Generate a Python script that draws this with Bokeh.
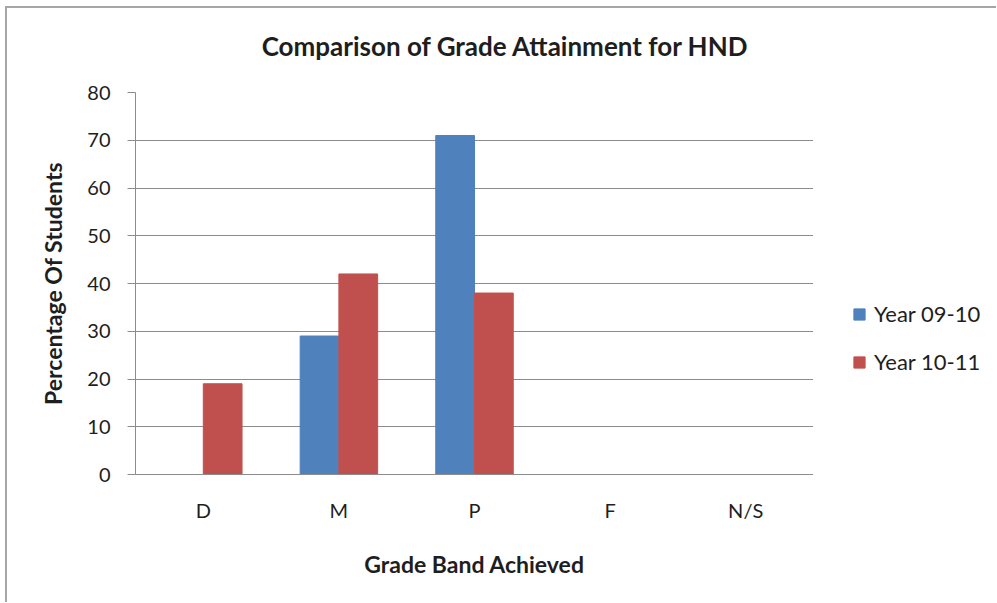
from bokeh.plotting import figure
from bokeh.models import (ColumnDataSource, FactorRange, Range1d, SingleIntervalTicker,
                          Legend, LegendItem, Label)
from bokeh.layouts import row, column
from bokeh.transform import dodge
from bokeh.embed import file_html
from bokeh.resources import INLINE

categories = ["D", "M", "P", "F", "N/S"]
year_0910 = [0, 29, 71, 0, 0]
year_1011 = [19, 42, 38, 0, 0]
series_names = ["Year 09-10", "Year 10-11"]
series_colors = ["#4F81BD", "#C0504D"]
title_text = "Comparison of Grade Attainment for HND"
x_title = "Grade Band Achieved"
y_title = "Percentage Of Students"

FONT = "Lato"
GRID = "#8c8c8c"
TXT = "#1e1e1e"


def blank(fig):
    fig.outline_line_color = None
    fig.background_fill_color = "white"
    fig.border_fill_color = "white"
    fig.grid.grid_line_color = None
    return fig


# ---- title strip ----
top = blank(figure(width=989, height=60, output_backend="svg", toolbar_location=None,
                   x_axis_location=None, y_axis_location=None,
                   min_border=0, min_border_left=0, min_border_right=0,
                   min_border_top=0, min_border_bottom=0))
top.add_layout(Label(x=498, y=23, x_units="screen", y_units="screen", text=title_text,
                     text_align="center", text_baseline="middle", text_font=FONT,
                     text_font_style="bold", text_font_size="26px", text_color=TXT))

# ---- main chart ----
source = ColumnDataSource(dict(cat=categories, a=year_0910, b=year_1011))

p = blank(figure(width=806, height=534, x_range=FactorRange(factors=categories, range_padding=0),
                 y_range=Range1d(0, 80), output_backend="svg", toolbar_location=None,
                 min_border_left=128, min_border_right=0, min_border_top=24,
                 min_border_bottom=128))

bw = 0.2857
p.vbar(x=dodge("cat", -bw / 2, range=p.x_range), top="a", width=bw, source=source,
       fill_color=series_colors[0], line_color=series_colors[0])
p.vbar(x=dodge("cat", bw / 2, range=p.x_range), top="b", width=bw, source=source,
       fill_color=series_colors[1], line_color=series_colors[1])

p.yaxis.ticker = SingleIntervalTicker(interval=10)
p.yaxis.axis_line_color = GRID
p.yaxis.major_tick_line_color = GRID
p.yaxis.major_tick_out = 8
p.yaxis.major_tick_in = 0
p.yaxis.minor_tick_line_color = None
p.yaxis.major_label_text_font = FONT
p.yaxis.major_label_text_font_size = "20px"
p.yaxis.major_label_text_color = TXT
p.yaxis.major_label_standoff = 17
p.yaxis.axis_label = y_title
p.yaxis.axis_label_text_font = FONT
p.yaxis.axis_label_text_font_style = "bold"
p.yaxis.axis_label_text_font_size = "23px"
p.yaxis.axis_label_text_color = TXT
p.yaxis.axis_label_standoff = 17

p.xaxis.axis_line_color = GRID
p.xaxis.major_tick_line_color = None
p.xaxis.minor_tick_line_color = None
p.xaxis.major_label_text_font = FONT
p.xaxis.major_label_text_font_size = "20px"
p.xaxis.major_label_text_color = TXT
p.xaxis.major_label_standoff = 17
p.xaxis.axis_label = x_title
p.xaxis.axis_label_text_font = FONT
p.xaxis.axis_label_text_font_style = "bold"
p.xaxis.axis_label_text_font_size = "23px"
p.xaxis.axis_label_text_color = TXT
p.xaxis.axis_label_standoff = 25

p.ygrid.grid_line_color = GRID
p.ygrid.grid_line_width = 1

# ---- legend strip (swatch-only renderers, never drawn) ----
lg = blank(figure(width=183, height=534, output_backend="svg", toolbar_location=None,
                  x_range=Range1d(0, 1), y_range=Range1d(0, 1),
                  x_axis_location=None, y_axis_location=None,
                  min_border=0, min_border_left=0, min_border_right=0,
                  min_border_top=0, min_border_bottom=0))
swatches = []
for c in series_colors:
    r = lg.vbar(x=[-10], top=[0], width=0, fill_color=c, line_color=c)
    r.visible = False
    swatches.append(r)
legend = Legend(items=[LegendItem(label=n, renderers=[r]) for n, r in zip(series_names, swatches)],
                location=(39, 99), orientation="vertical")
legend.border_line_color = None
legend.background_fill_alpha = 0
legend.padding = 0
legend.margin = 0
legend.spacing = 21
legend.glyph_width = 14
legend.glyph_height = 14
legend.label_standoff = 8
legend.label_text_font = FONT
legend.label_text_font_size = "22px"
legend.label_text_color = TXT
lg.add_layout(legend)

layout = column(top, row(p, lg, spacing=0), spacing=0,
                styles={"border-top": "2px solid #a6a6a6", "border-left": "2px solid #a6a6a6",
                        "margin-left": "5px", "margin-top": "6px"})

open("out.html", "w").write(file_html(layout, INLINE))
